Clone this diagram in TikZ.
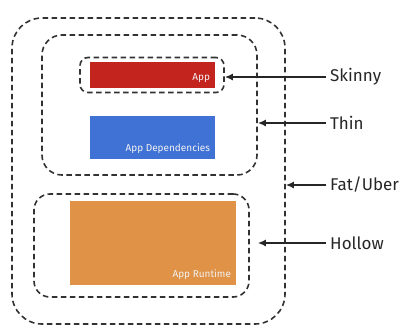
\documentclass[tikz,border=0pt]{standalone}
\usepackage{fontspec}
\setmainfont{Fira Sans}
\usetikzlibrary{arrows.meta, positioning}
\definecolor{apptred}{RGB}{196,36,30}
\definecolor{depblue}{RGB}{64,114,214}
\definecolor{runorange}{RGB}{224,146,70}
\definecolor{dashgray}{RGB}{50,50,50}

\tikzset{
  layer/.style={draw=dashgray, dash pattern=on 5.5pt off 3.5pt, line width=1.6pt},
  block/.style={rectangle, inner sep=0pt},
  tag/.style={text=white!90!gray, font=\fontsize{10}{11}\selectfont, anchor=south east, inner xsep=5pt, inner ysep=5pt},
  kind/.style={anchor=west, inner sep=0pt, text=black!85, font=\fontsize{17}{19}\selectfont},
  pointer/.style={-{Latex[length=8pt,width=7pt]}, line width=1.6pt, black!85, shorten <=4pt}
}

\begin{document}
\begin{tikzpicture}[x=1pt,y=-1pt]
\useasboundingbox (0,0) rectangle (408,327);

% Dashed layers
\node[layer, block, rounded corners=30pt, minimum width=273pt, minimum height=306pt] (fat) at (148.5,171) {};
\node[layer, block, rounded corners=20pt, minimum width=215pt, minimum height=140pt] (thin) at (149.5,105) {};
\node[layer, block, rounded corners=8pt, minimum width=144pt, minimum height=35pt] (skinny) at (152,75) {};
\node[layer, block, rounded corners=16pt, minimum width=215pt, minimum height=103pt] (hollow) at (141.5,245.5) {};

% Coloured blocks
\node[block, fill=apptred, minimum width=125pt, minimum height=26pt] (app) at (152.5,75) {};
\node[tag] at (app.south east) {App};
\node[block, fill=depblue, minimum width=125pt, minimum height=43pt] (deps) at (152.5,137.5) {};
\node[tag] at (deps.south east) {App Dependencies};
\node[block, fill=runorange, minimum width=166pt, minimum height=84pt] (runtime) at (153,243) {};
\node[tag] at (runtime.south east) {App Runtime};

% Labels and arrows
\node[kind] (skinnyLbl) at (330,77) {Skinny};
\node[kind] (thinLbl) at (330,123) {Thin};
\node[kind] (fatLbl) at (330,185) {Fat/Uber};
\node[kind] (hollowLbl) at (330,243) {Hollow};

\draw[pointer] (skinnyLbl.west) -- (skinnyLbl.west -| skinny.east);
\draw[pointer] (thinLbl.west) -- (thinLbl.west -| thin.east);
\draw[pointer] (fatLbl.west) -- (fatLbl.west -| fat.east);
\draw[pointer, shorten >=8pt] (hollowLbl.west) -- (hollowLbl.west -| hollow.east);
\end{tikzpicture}
\end{document}
